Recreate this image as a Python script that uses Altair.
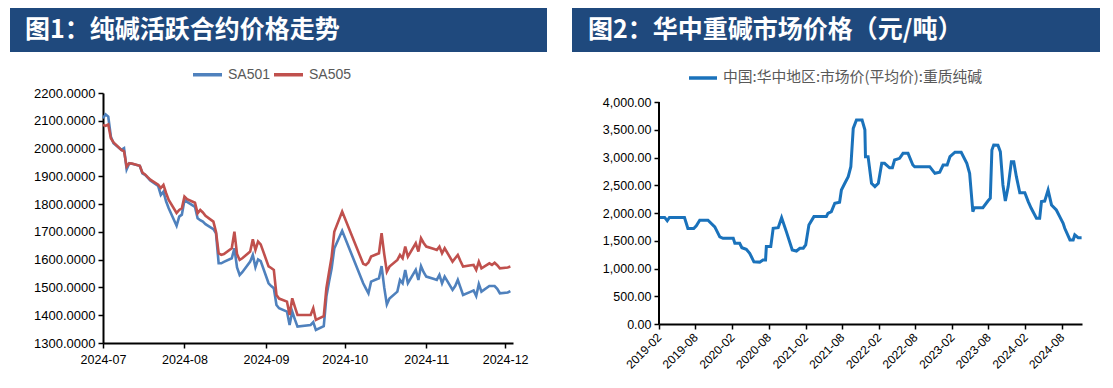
import altair as alt
import pandas as pd

titles = ["图1：纯碱活跃合约价格走势", "图2：华中重碱市场价格（元/吨）"]
series_names = ["SA501", "SA505"]
hz_name = "中国:华中地区:市场价(平均价):重质纯碱"

sa_dates = [
    "2024-07-01", "2024-07-02", "2024-07-03", "2024-07-04", "2024-07-05",
    "2024-07-08", "2024-07-09", "2024-07-10", "2024-07-11", "2024-07-12",
    "2024-07-15", "2024-07-16", "2024-07-17", "2024-07-18", "2024-07-19",
    "2024-07-22", "2024-07-23", "2024-07-24", "2024-07-25", "2024-07-26",
    "2024-07-29", "2024-07-30", "2024-07-31", "2024-08-01", "2024-08-02",
    "2024-08-05", "2024-08-06", "2024-08-07", "2024-08-08", "2024-08-09",
    "2024-08-12", "2024-08-13", "2024-08-14", "2024-08-15", "2024-08-16",
    "2024-08-19", "2024-08-20", "2024-08-21", "2024-08-22", "2024-08-23",
    "2024-08-26", "2024-08-27", "2024-08-28", "2024-08-29", "2024-08-30",
    "2024-09-02", "2024-09-03", "2024-09-04", "2024-09-05", "2024-09-06",
    "2024-09-09", "2024-09-10", "2024-09-11", "2024-09-12", "2024-09-13",
    "2024-09-18", "2024-09-19", "2024-09-20", "2024-09-23", "2024-09-24",
    "2024-09-25", "2024-09-26", "2024-09-27", "2024-09-30", "2024-10-08",
    "2024-10-09", "2024-10-10", "2024-10-11", "2024-10-14", "2024-10-15",
    "2024-10-16", "2024-10-17", "2024-10-18", "2024-10-21", "2024-10-22",
    "2024-10-23", "2024-10-24", "2024-10-25", "2024-10-28", "2024-10-29",
    "2024-10-30", "2024-10-31", "2024-11-01", "2024-11-04", "2024-11-05",
    "2024-11-06", "2024-11-07", "2024-11-08", "2024-11-11", "2024-11-12",
    "2024-11-13", "2024-11-14", "2024-11-15", "2024-11-18", "2024-11-19",
    "2024-11-20", "2024-11-21", "2024-11-22", "2024-11-25", "2024-11-26",
    "2024-11-27", "2024-11-28", "2024-11-29", "2024-12-02", "2024-12-03",
]

sa501 = [
    2109, 2123, 2115, 2043, 2019,
    1995, 2001, 1925, 1947, 1945,
    1938, 1911, 1905, 1895, 1885,
    1865, 1833, 1845, 1810, 1785,
    1722, 1755, 1762, 1815, 1808,
    1790, 1749, 1742, 1737, 1728,
    1710, 1695, 1587, 1587, 1592,
    1605, 1641, 1572, 1545, 1555,
    1593, 1617, 1573, 1601, 1595,
    1515, 1505, 1497, 1437, 1425,
    1413, 1365, 1413, 1385, 1359,
    1365, 1375, 1347, 1361, 1467,
    1520, 1569, 1640, 1704, 1515,
    1497, 1479, 1521, 1533, 1577,
    1500, 1439, 1460, 1485, 1527,
    1515, 1563, 1515, 1563, 1527,
    1577, 1555, 1539, 1530, 1527,
    1545, 1515, 1539, 1491, 1505,
    1527, 1500, 1473, 1485, 1489,
    1469, 1512, 1485, 1505, 1505,
    1505, 1495, 1479, 1482, 1487,
]

sa505 = [
    2085, 2082, 2087, 2037, 2022,
    1995, 1990, 1935, 1947, 1946,
    1938, 1913, 1907, 1897, 1888,
    1870, 1858, 1869, 1840, 1815,
    1768, 1779, 1785, 1827, 1818,
    1805, 1767, 1779, 1770, 1758,
    1737, 1700, 1623, 1617, 1620,
    1641, 1701, 1620, 1599, 1605,
    1629, 1673, 1635, 1665, 1655,
    1576, 1570, 1563, 1473, 1460,
    1449, 1401, 1461, 1430, 1401,
    1401, 1425, 1383, 1397, 1497,
    1555, 1611, 1700, 1773, 1585,
    1581, 1590, 1611, 1623, 1695,
    1620, 1557, 1575, 1599, 1617,
    1605, 1647, 1611, 1659, 1629,
    1677, 1660, 1647, 1638, 1635,
    1647, 1623, 1641, 1593, 1605,
    1617, 1595, 1575, 1580, 1581,
    1563, 1593, 1569, 1587, 1581,
    1589, 1580, 1569, 1572, 1575,
]

hz_dates = [
    "2019-02-01", "2019-03-01", "2019-03-14", "2019-03-25", "2019-06-08",
    "2019-06-25", "2019-07-24", "2019-08-06", "2019-08-23", "2019-10-03",
    "2019-11-06", "2019-12-01", "2019-12-17", "2020-02-06", "2020-02-14",
    "2020-03-09", "2020-03-20", "2020-04-11", "2020-04-28", "2020-05-19",
    "2020-06-17", "2020-07-03", "2020-07-16", "2020-07-20", "2020-08-11",
    "2020-08-23", "2020-09-17", "2020-10-04", "2020-10-28", "2020-11-26",
    "2020-12-17", "2021-01-03", "2021-01-20", "2021-02-01", "2021-02-17",
    "2021-03-14", "2021-05-15", "2021-05-23", "2021-06-09", "2021-06-26",
    "2021-07-20", "2021-07-29", "2021-08-15", "2021-09-01", "2021-09-14",
    "2021-09-26", "2021-10-12", "2021-11-09", "2021-11-23", "2021-11-26",
    "2021-12-09", "2021-12-26", "2022-01-12", "2022-01-29", "2022-02-15",
    "2022-03-01", "2022-03-26", "2022-04-09", "2022-04-20", "2022-05-15",
    "2022-06-01", "2022-06-26", "2022-07-20", "2022-07-29", "2022-10-12",
    "2022-11-07", "2022-12-01", "2022-12-18", "2023-01-07", "2023-01-21",
    "2023-02-15", "2023-03-18", "2023-04-15", "2023-04-29", "2023-05-15",
    "2023-05-23", "2023-07-04", "2023-07-29", "2023-08-10", "2023-08-18",
    "2023-08-27", "2023-09-17", "2023-09-29", "2023-10-12", "2023-10-24",
    "2023-11-07", "2023-11-23", "2023-12-05", "2023-12-18", "2024-01-04",
    "2024-01-29", "2024-02-15", "2024-03-01", "2024-03-27", "2024-04-12",
    "2024-04-21", "2024-05-07", "2024-05-24", "2024-06-10", "2024-07-04",
    "2024-07-21", "2024-08-07", "2024-08-15", "2024-09-10", "2024-09-26",
    "2024-10-04", "2024-10-21", "2024-11-07",
]

hz_price = [
    1920, 1920, 1860, 1920, 1920,
    1720, 1720, 1770, 1870, 1870,
    1750, 1570, 1545, 1545, 1455,
    1455, 1375, 1345, 1275, 1120,
    1115, 1155, 1155, 1395, 1395,
    1725, 1735, 1915, 1660, 1335,
    1315, 1365, 1365, 1425, 1785,
    1935, 1935, 1995, 2025, 2175,
    2195, 2415, 2535, 2655, 2835,
    3525, 3675, 3675, 3500, 3015,
    3015, 2535, 2475, 2535, 2895,
    2895, 2815, 2815, 2955, 2985,
    3075, 3075, 2865, 2835, 2835,
    2715, 2735, 2865, 2865, 3015,
    3095, 3095, 2895, 2715, 2025,
    2095, 2095, 2215, 2265, 3135,
    3225, 3220, 3105, 2505, 2215,
    2475, 2925, 2925, 2655, 2365,
    2365, 2205, 2085, 1905, 1905,
    2205, 2215, 2415, 2145, 2055,
    1935, 1815, 1725, 1515, 1515,
    1605, 1555, 1555,
]

y_axis_range = [0, 4000]

HEADER = "#1F497D"
AX_FONT = "Liberation Sans"
CJK = "Noto Sans CJK SC"


def dt(y, m, d):
    return alt.DateTime(year=y, month=m, date=d, utc=True)


common = dict(tickColor="black", tickWidth=1.5, tickSize=5, labelColor="black",
              labelFont=AX_FONT, grid=False, title=None, labelOverlap=False, labelFlush=False)
axis_style = dict(domainColor="black", domainWidth=2, **common)

# ---------- left panel ----------
n = len(sa_dates)
df_left = pd.DataFrame({
    "date": sa_dates + sa_dates,
    "value": sa501 + sa505,
    "series": [series_names[0]] * n + [series_names[1]] * n,
})

LW, LH = 410, 250
left_lines = alt.Chart(df_left).mark_line(strokeWidth=2.6).encode(
    x=alt.X("date:T",
            scale=alt.Scale(type="utc", domain=[dt(2024, 7, 1), dt(2024, 12, 4)], nice=False),
            axis=alt.Axis(values=[dt(2024, m, 1) for m in range(7, 13)], format="%Y-%m",
                          labelFontSize=12.5, labelPadding=5, labelAngle=0, **axis_style)),
    y=alt.Y("value:Q",
            scale=alt.Scale(domain=[1300, 2200], nice=False, zero=False),
            axis=alt.Axis(values=list(range(1300, 2201, 100)), format=".4f",
                          labelFontSize=13, labelPadding=3, **axis_style)),
    color=alt.Color("series:N",
                    scale=alt.Scale(domain=series_names, range=["#4F81BD", "#C0504D"]),
                    legend=alt.Legend(orient="none", legendX=88, legendY=-35, direction="horizontal",
                                      title=None, symbolType="stroke", symbolSize=840,
                                      symbolStrokeWidth=3.5, labelFontSize=14, labelColor="#595959",
                                      labelFont=AX_FONT, columnPadding=-4, labelOffset=4, padding=0)),
)

left_bar = alt.Chart(pd.DataFrame({"t": [titles[0]]})).mark_rect(color=HEADER).encode(
    x=alt.value(-93), x2=alt.value(444), y=alt.value(-85), y2=alt.value(-41))
left_title = alt.Chart(pd.DataFrame({"t": [titles[0]]})).mark_text(
    align="left", baseline="middle", fontSize=25, fontWeight="bold", color="white", font=CJK
).encode(x=alt.value(-78), y=alt.value(-63), text="t:N")

left = alt.layer(left_bar, left_title, left_lines).properties(width=LW, height=LH)

# ---------- right panel ----------
# plot area starts at the same top as the left panel; the y axis line is drawn
# as a rule from 0 to 4000 so the extra 9px above stays empty
df_right = pd.DataFrame({"date": hz_dates, "value": hz_price, "series": [hz_name] * len(hz_dates)})

RW, RH = 423, 231
Y_TOP = 4000 * RH / 222.0
r_yscale = alt.Scale(domain=[0, Y_TOP], nice=False)
r_yaxis = alt.Axis(values=list(range(0, 4001, 500)), format=",.2f", domain=False,
                   labelFontSize=12.5, labelPadding=3, **common)

right_line = alt.Chart(df_right).mark_line(strokeWidth=3, color="#1A72BB").encode(
    x=alt.X("date:T",
            scale=alt.Scale(type="utc", domain=[dt(2019, 2, 1), dt(2024, 11, 9)], nice=False),
            axis=alt.Axis(values=[dt(2019 + (k // 2), 2 + 6 * (k % 2), 1) for k in range(12)],
                          format="%Y-%m", labelFontSize=12, labelPadding=6, labelAngle=315,
                          labelAlign="right", labelBaseline="middle", **axis_style)),
    y=alt.Y("value:Q", scale=r_yscale, axis=r_yaxis),
    color=alt.Color("series:N",
                    scale=alt.Scale(domain=[hz_name], range=["#1A72BB"]),
                    legend=alt.Legend(orient="none", legendX=28, legendY=-31, direction="horizontal",
                                      title=None, symbolType="stroke", symbolSize=784,
                                      symbolStrokeWidth=3.5, labelFontSize=14.8, labelColor="#595959",
                                      labelFont=CJK, labelOffset=4, padding=0, labelLimit=400)),
)

right_axis_line = alt.Chart(pd.DataFrame({"lo": [y_axis_range[0]], "hi": [y_axis_range[1]]})).mark_rule(
    color="black", strokeWidth=2).encode(
    x=alt.value(0), y=alt.Y("lo:Q", scale=r_yscale, axis=r_yaxis), y2="hi:Q")

right_bar = alt.Chart(pd.DataFrame({"t": [titles[1]]})).mark_rect(color=HEADER).encode(
    x=alt.value(-87), x2=alt.value(441), y=alt.value(-85), y2=alt.value(-41))
right_title = alt.Chart(pd.DataFrame({"t": [titles[1]]})).mark_text(
    align="left", baseline="middle", fontSize=25, fontWeight="bold", color="white", font=CJK
).encode(x=alt.value(-71), y=alt.value(-63), text="t:N")

right = alt.layer(right_bar, right_title, right_line, right_axis_line).properties(width=RW, height=RH)

chart = alt.hconcat(left, right, spacing=25).resolve_scale(
    x="independent", y="independent", color="independent"
).properties(
    padding={"left": 2, "top": 0, "right": 0, "bottom": 0},
    background="white",
).configure_view(stroke=None)

chart.save("out.html", embed_options={"renderer": "svg", "actions": False})
